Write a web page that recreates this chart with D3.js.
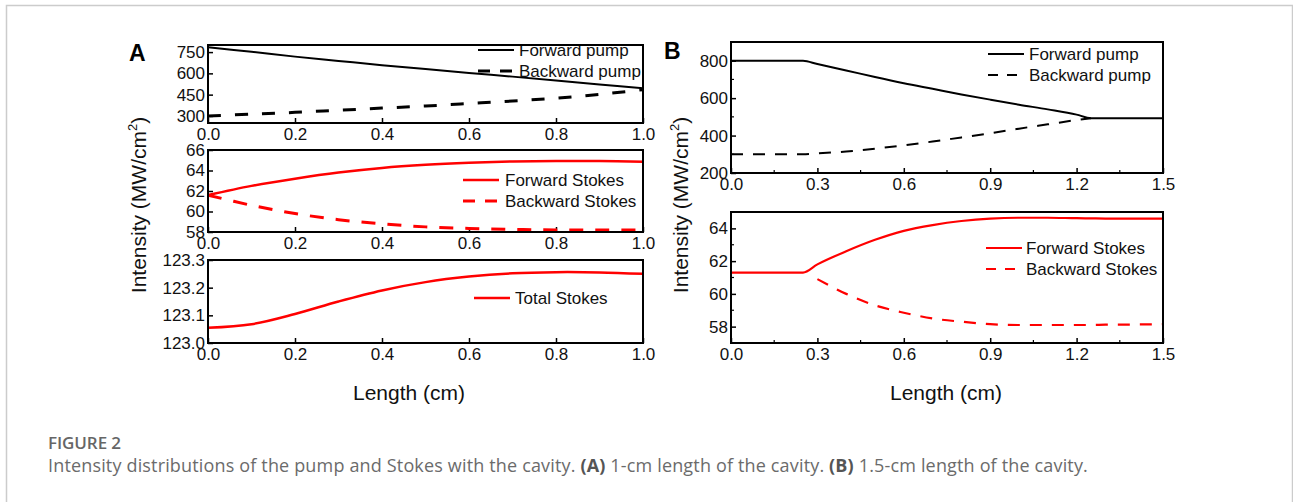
<!DOCTYPE html>
<html>
<head>
<meta charset="utf-8">
<script src="https://cdn.jsdelivr.net/npm/d3@7"></script>
<style>
  body { margin: 0; background: #fff; }
  svg text { font-family: Arial, "Liberation Sans", sans-serif; }
  svg text.caption { font-family: "Open Sans", "Noto Sans", sans-serif; }
</style>
</head>
<body>
<svg id="chart" width="1293" height="502"></svg>
<script>
// ---- data ----
const lenA = [0, 0.1, 0.2, 0.3, 0.4, 0.5, 0.6, 0.7, 0.8, 0.9, 1.0];
const fwdPumpA = [785, 752, 718, 688, 658, 630, 603, 577, 550, 522, 495];
const bwdPumpA = [300, 312, 325, 340, 355, 370, 387, 405, 425, 452, 485];
const fwdStokesA = [61.6, 62.5, 63.2, 63.8, 64.25, 64.55, 64.75, 64.88, 64.93, 64.92, 64.85];
const bwdStokesA = [61.6, 60.6, 59.8, 59.2, 58.8, 58.5, 58.35, 58.25, 58.2, 58.2, 58.2];
const totalStokesA = [123.055, 123.068, 123.105, 123.15, 123.19, 123.22, 123.24, 123.252, 123.256, 123.255, 123.25];

const lenB = [0, 0.25, 0.3, 0.4, 0.5, 0.6, 0.7, 0.8, 0.9, 1.0, 1.1, 1.2, 1.25, 1.3, 1.4, 1.5];
const fwdPumpB = [800, 800, 782, 748, 713, 680, 650, 620, 592, 565, 540, 512, 493, 493, 493, 493];
const bwdPumpB = [300, 300, 305, 315, 330, 348, 368, 390, 412, 437, 460, 483, 493, null, null, null];
const fwdStokesB = [61.3, 61.3, 61.8, 62.6, 63.3, 63.85, 64.2, 64.45, 64.6, 64.65, 64.65, 64.62, 64.61, 64.6, 64.6, 64.6];
const bwdStokesB = [null, null, 60.9, 60.0, 59.3, 58.85, 58.5, 58.3, 58.15, 58.1, 58.1, 58.1, 58.1, 58.12, 58.13, 58.15];

const ticksXA = [0, 0.2, 0.4, 0.6, 0.8, 1.0];
const ticksXB = [0, 0.3, 0.6, 0.9, 1.2, 1.5];
const ticksPumpA = [300, 450, 600, 750];
const ticksStokesA = [58, 60, 62, 64, 66];
const ticksTotalA = [123.0, 123.1, 123.2, 123.3];
const ticksPumpB = [200, 400, 600, 800];
const ticksStokesB = [58, 60, 62, 64];

const svg = d3.select('#chart');

// outer frame of the figure
svg.append('rect')
    .attr('x', 6.5).attr('y', 5.5)
    .attr('width', 1286).attr('height', 530)
    .attr('fill', 'none')
    .attr('stroke', '#cccccc')
    .attr('stroke-width', 1.5);

function panel(p) {
    const x = d3.scaleLinear().domain(p.xDomain).range([p.left, p.right]);
    const y = d3.scaleLinear().domain(p.yDomain).range([p.bottom, p.top]);
    const g = svg.append('g');

    // inward ticks
    const xAxis = g.append('g')
        .attr('transform', 'translate(0,' + p.bottom + ')')
        .call(d3.axisBottom(x).tickValues(p.xTicks).tickSize(-5).tickPadding(8).tickFormat(d3.format('.1f')));
    const yAxis = g.append('g')
        .attr('transform', 'translate(' + p.left + ',0)')
        .call(d3.axisLeft(y).tickValues(p.yTicks).tickSize(-5).tickPadding(3).tickFormat(d3.format(p.yFormat)));
    [xAxis, yAxis].forEach(a => {
        a.select('.domain').remove();
        a.selectAll('line').attr('stroke', '#000').attr('stroke-width', 1.5);
        a.selectAll('text').attr('font-size', 17).attr('fill', '#111');
    });
    xAxis.selectAll('text').attr('dy', '0.5em');

    if (p.minor) {
        const mx = p.xTicks.slice(1).map((d, i) => (d + p.xTicks[i]) / 2);
        const my = p.yTicks.slice(0, -1).map((d, i) => (d + p.yTicks[i + 1]) / 2);
        g.selectAll('.mx').data(mx).enter().append('line')
            .attr('x1', d => x(d)).attr('x2', d => x(d))
            .attr('y1', p.bottom).attr('y2', p.bottom - 3)
            .attr('stroke', '#000').attr('stroke-width', 1.2);
        g.selectAll('.my').data(my).enter().append('line')
            .attr('y1', d => y(d)).attr('y2', d => y(d))
            .attr('x1', p.left).attr('x2', p.left + 3)
            .attr('stroke', '#000').attr('stroke-width', 1.2);
    }

    const clipId = 'clip' + Math.round(p.left) + '_' + Math.round(p.top);
    g.append('clipPath').attr('id', clipId).append('rect')
        .attr('x', p.left).attr('y', p.top)
        .attr('width', p.right - p.left).attr('height', p.bottom - p.top);

    p.series.forEach(s => {
        const pts = p.xs.map((d, i) => [d, s.values[i]]);
        const line = d3.line()
            .defined(d => d[1] != null)
            .x(d => x(d[0])).y(d => y(d[1]))
            .curve(p.curve);
        g.append('path')
            .attr('clip-path', 'url(#' + clipId + ')')
            .attr('d', line(pts))
            .attr('fill', 'none')
            .attr('stroke', s.color)
            .attr('stroke-width', s.width)
            .attr('stroke-dasharray', s.dash || null);
    });

    // legend
    p.series.filter(s => s.label).forEach((s, i) => {
        const ly = p.legendY + i * p.legendGap;
        g.append('line')
            .attr('x1', p.legendX).attr('x2', p.legendX + 36)
            .attr('y1', ly).attr('y2', ly)
            .attr('stroke', s.color)
            .attr('stroke-width', s.width)
            .attr('stroke-dasharray', s.dash ? s.legendDash : null);
        g.append('text')
            .attr('x', p.legendX + p.textGap).attr('y', ly)
            .attr('dy', '0.35em')
            .attr('font-size', 17)
            .attr('fill', '#111')
            .text(s.label);
    });

    // frame
    g.append('rect')
        .attr('x', p.left).attr('y', p.top)
        .attr('width', p.right - p.left).attr('height', p.bottom - p.top)
        .attr('fill', 'none').attr('stroke', '#000').attr('stroke-width', 2);
}

// ---- panel A ----
panel({
    left: 208, right: 643, top: 45, bottom: 123,
    xDomain: [0, 1], yDomain: [250, 800], xs: lenA, curve: d3.curveCatmullRom,
    xTicks: ticksXA, yTicks: ticksPumpA, yFormat: 'd',
    legendX: 478, legendY: 50, legendGap: 21, textGap: 41,
    series: [
        { values: fwdPumpA, color: '#000', width: 2, label: 'Forward pump' },
        { values: bwdPumpA, color: '#000', width: 3, dash: '13,14', legendDash: '12,10', label: 'Backward pump' }
    ]
});
panel({
    left: 208, right: 643, top: 150, bottom: 232,
    xDomain: [0, 1], yDomain: [58, 66], xs: lenA, curve: d3.curveCatmullRom,
    xTicks: ticksXA, yTicks: ticksStokesA, yFormat: 'd',
    legendX: 463, legendY: 180, legendGap: 21, textGap: 42,
    series: [
        { values: fwdStokesA, color: '#ff0000', width: 2.5, label: 'Forward Stokes' },
        { values: bwdStokesA, color: '#ff0000', width: 3, dash: '14,12', legendDash: '12,10', label: 'Backward Stokes' }
    ]
});
panel({
    left: 208, right: 643, top: 260, bottom: 343,
    xDomain: [0, 1], yDomain: [123.0, 123.3], xs: lenA, curve: d3.curveCatmullRom,
    xTicks: ticksXA, yTicks: ticksTotalA, yFormat: '.1f',
    legendX: 474, legendY: 298, legendGap: 21, textGap: 41,
    series: [
        { values: totalStokesA, color: '#ff0000', width: 2.5, label: 'Total Stokes' }
    ]
});

// ---- panel B ----
panel({
    left: 731, right: 1163, top: 42, bottom: 173,
    xDomain: [0, 1.5], yDomain: [200, 900], xs: lenB, minor: true, curve: d3.curveMonotoneX,
    xTicks: ticksXB, yTicks: ticksPumpB, yFormat: 'd',
    legendX: 988, legendY: 54, legendGap: 21, textGap: 41,
    series: [
        { values: fwdPumpB, color: '#000', width: 2, label: 'Forward pump' },
        { values: bwdPumpB, color: '#000', width: 2, dash: '12,10', legendDash: '10,9', label: 'Backward pump' }
    ]
});
panel({
    left: 731, right: 1163, top: 212, bottom: 343,
    xDomain: [0, 1.5], yDomain: [57, 65], xs: lenB, minor: true, curve: d3.curveMonotoneX,
    xTicks: ticksXB, yTicks: ticksStokesB, yFormat: 'd',
    legendX: 986, legendY: 248, legendGap: 21, textGap: 40,
    series: [
        { values: fwdStokesB, color: '#ff0000', width: 2.2, label: 'Forward Stokes' },
        { values: bwdStokesB, color: '#ff0000', width: 2.2, dash: '12,10', legendDash: '10,9', label: 'Backward Stokes' }
    ]
});

// panel letters
svg.append('text').attr('x', 129).attr('y', 61).attr('font-size', 23).attr('font-weight', 'bold').text('A');
svg.append('text').attr('x', 664).attr('y', 59).attr('font-size', 23).attr('font-weight', 'bold').text('B');

// axis titles
[[409, 'Length (cm)'], [946, 'Length (cm)']].forEach(d => {
    svg.append('text').attr('x', d[0]).attr('y', 400)
        .attr('text-anchor', 'middle').attr('font-size', 21).attr('fill', '#111').text(d[1]);
});
[[146, 205], [688, 205]].forEach(d => {
    const t = svg.append('text')
        .attr('transform', 'translate(' + d[0] + ',' + d[1] + ') rotate(-90)')
        .attr('text-anchor', 'middle').attr('font-size', 21).attr('fill', '#111');
    t.append('tspan').text('Intensity (MW/cm');
    t.append('tspan').attr('font-size', 13).attr('dy', -9).text('2');
    t.append('tspan').attr('dy', 9).text(')');
});

// caption
const fig = svg.append('text').attr('class', 'caption')
    .attr('x', 48).attr('y', 449).attr('font-size', 17).attr('font-weight', 600)
    .attr('fill', '#666').text('FIGURE 2');
fig.attr('letter-spacing', ((73 - fig.node().getComputedTextLength()) / 8).toFixed(3));
const cap = svg.append('text').attr('class', 'caption')
    .attr('x', 48).attr('y', 472).attr('font-size', 18).attr('fill', '#6b6b6b');
cap.append('tspan').text('Intensity distributions of the pump and Stokes with the cavity. ');
cap.append('tspan').attr('font-weight', 'bold').attr('fill', '#555').text('(A)');
cap.append('tspan').text(' 1-cm length of the cavity. ');
cap.append('tspan').attr('font-weight', 'bold').attr('fill', '#555').text('(B)');
cap.append('tspan').text(' 1.5-cm length of the cavity.');
// stretch the caption a little to the width it has in the figure
const capLen = cap.node().getComputedTextLength();
const capChars = cap.text().length;
cap.attr('letter-spacing', ((1040 - capLen) / capChars).toFixed(3));
</script>
</body>
</html>
